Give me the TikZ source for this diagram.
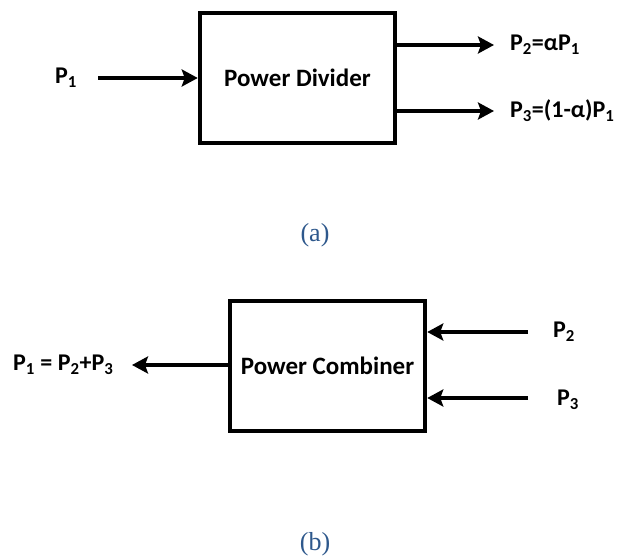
\documentclass[tikz,border=0pt]{standalone}
\usepackage{fontspec}
\setmainfont{Carlito}
\newfontfamily\capfont{Liberation Serif}
\usetikzlibrary{arrows.meta}
\definecolor{capblue}{RGB}{46,88,140}
\newcommand\sbs[1]{\textsubscript{#1}}
\begin{document}
\begin{tikzpicture}[x=1pt,y=-1pt,
  blk/.style={draw,line width=4.5pt,minimum width=195pt,minimum height=130pt,inner sep=0pt,
    font=\fontsize{25}{28}\selectfont\bfseries},
  lbl/.style={inner sep=0pt,font=\fontsize{24}{27}\selectfont\bfseries},
  captxt/.style={inner sep=0pt,text=capblue,font=\capfont\fontsize{26}{29}\selectfont},
  arr/.style={line width=4pt,-{Stealth[length=16pt,width=17pt,inset=3pt]}}]
\useasboundingbox (0,0) rectangle (619,559);
% (a) divider
\node[blk] (pd) at (297.5,78) {Power Divider};
\node[lbl] (p1) at (66,78) {P\sbs{1}};
\coordinate (p1s) at (98,78);
\draw[arr] (p1s) -- (pd.west);
\coordinate (o2) at (494,45);
\coordinate (o3) at (494,111);
\draw[arr] (pd.east |- o2) -- (o2);
\draw[arr] (pd.east |- o3) -- (o3);
\node[lbl,anchor=west] (l2) at (510,45) {P\sbs{2}=αP\sbs{1}};
\node[lbl,anchor=west] (l3) at (510,111) {P\sbs{3}=(1-α)P\sbs{1}};
\node[captxt] (ca) at (315,235) {(a)};
% (b) combiner
\node[blk] (pc) at (327.5,366) {Power Combiner};
\coordinate (q1) at (132,365);
\draw[arr] (pc.west |- q1) -- (q1);
\node[lbl,anchor=west] (m1) at (13,365) {P\sbs{1} = P\sbs{2}+P\sbs{3}};
\coordinate (i2) at (528,332);
\coordinate (i3) at (528,398);
\draw[arr] (i2) -- (pc.east |- i2);
\draw[arr] (i3) -- (pc.east |- i3);
\node[lbl,anchor=west] (m2) at (553,332) {P\sbs{2}};
\node[lbl,anchor=west] (m3) at (557,400) {P\sbs{3}};
\node[captxt] (cb) at (315,544) {(b)};
\end{tikzpicture}
\end{document}
